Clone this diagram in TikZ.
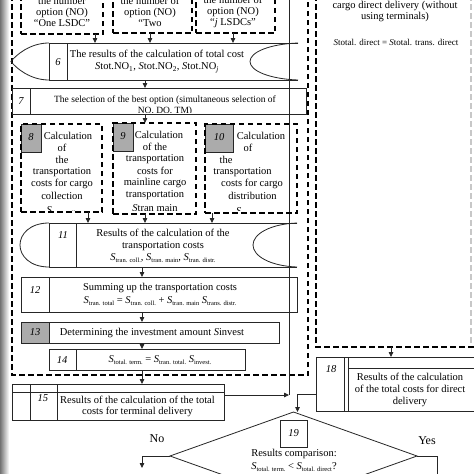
\documentclass[tikz,border=0pt]{standalone}
\usepackage{fontspec}
\setmainfont{Liberation Serif}
\usetikzlibrary{arrows.meta,shapes.geometric}
\newcommand{\Sx}[1]{\textit{S}\raisebox{-0.4ex}{\fontsize{6.5}{7}\selectfont #1}}
\begin{document}
\begin{tikzpicture}[x=1pt,y=-1pt,
  ln/.style={line width=0.8pt,draw=black!85},
  dsh/.style={line width=1.6pt,dash pattern=on 5.5pt off 3.5pt},
  gdsh/.style={line width=1.6pt,dash pattern=on 5.5pt off 3.5pt,draw=black!22},
  arr/.style={ln,-{Triangle[length=5pt,width=4.5pt]}},
  bx/.style={rectangle,inner sep=0pt,outer sep=0pt},
  sbox/.style={bx,ln,draw},
  dbox/.style={bx,dsh,draw},
  gcell/.style={bx,ln,draw,fill=black!33},
  tx/.style={font=\fontsize{10.5}{12}\selectfont,align=center,inner sep=0pt},
  txs/.style={font=\fontsize{9.5}{11}\selectfont,align=center,inner sep=0pt},
  num/.style={font=\fontsize{10.5}{12}\selectfont\itshape,inner sep=0pt},
  lbl/.style={font=\fontsize{12}{14}\selectfont,inner sep=0pt},
]
\useasboundingbox (0,0) rectangle (474,474);
\clip (0,0) rectangle (474,474);
\fill[white] (0,0) rectangle (474,474);
\shade[left color=black!55,right color=white] (0,0) rectangle (9,474);

% outer dashed frames
\draw[dsh] (12,-5) -- (12,375) -- (308,375) -- (308,-5);
\draw[dsh] (316,-5) -- (316,347) -- (480,347);
\draw[gdsh] (471,-5) -- (471,344);
\coordinate (rdb) at (391,347);
\coordinate (j1) at (289,395);
\draw[ln] (289,-5) -- (j1);

% top right texts
\node[tx,font=\fontsize{10.5}{11}\selectfont] (rt) at (395,11.5) {cargo direct delivery (without\\using terminals)};
\node[tx,font=\fontsize{9}{10}\selectfont] (rf) at (396,42) {\textit{S}total. direct = \textit{S}total. trans. direct};

% option boxes
\node[dbox,minimum width=82,minimum height=50] (o1) at (62,9) {};
\node[dbox,minimum width=79,minimum height=49] (o2) at (152.5,8.5) {};
\node[dbox,minimum width=79,minimum height=49] (o3) at (235.5,8.5) {};
\node[tx,font=\fontsize{10.5}{11}\selectfont] (o1t) at (62,11.5) {the number\\option (NO)\\“One LSDC”};
\node[tx,font=\fontsize{10.5}{11}\selectfont] (o2t) at (150,11.5) {the number of\\option (NO)\\“Two};
\node[tx,font=\fontsize{10.5}{11}\selectfont] (o3t) at (233,11.5) {the number of\\option (NO)\\“\textit{j} LSDCs”};

% box 6
\node[bx,minimum width=249,minimum height=37] (b6) at (173.5,61.5) {};
\draw[ln] (b6.north east) -- (b6.north west) -- (b6.south west) -- (b6.south east);
\draw[ln] (67,0 |- b6.north) -- (67,0 |- b6.south);
\draw[ln] (b6.north west) .. controls (30,43) and (16,55) .. (11,61.5) .. controls (16,68) and (30,80) .. (b6.south west);
\draw[ln] (b6.north east) .. controls (270,44) and (250,52) .. (250,61.5) .. controls (250,71) and (270,79) .. (b6.south east);
\node[num] (n6) at (58,62) {6};
\node[tx] (t6) at (157,61.5) {The results of the calculation of total cost\\\textit{S}tot.NO\textsubscript{1}, \textit{S}tot.NO\textsubscript{2}, \textit{S}tot.NO\textsubscript{\textit{j}}};

% box 7
\node[sbox,minimum width=294,minimum height=26] (b7) at (159,101) {};
\draw[ln] (30,0 |- b7.north) -- (30,0 |- b7.south);
\node[num] (n7) at (21,101) {7};
\begin{scope}
\clip (30,88) rectangle (306,112.5);
\node[txs] (t7) at (165,105.5) {The selection of the best option (simultaneous selection of\\NO, DO, TM)};
\end{scope}

% boxes 8, 9, 10
\node[gcell,minimum width=20,minimum height=28] (g8) at (31,138) {};
\node[num] (n8) at (31,137) {8};
\node[gcell,minimum width=20,minimum height=28] (g9) at (123,137) {};
\node[num] (n9) at (123,136) {9};
\node[gcell,minimum width=28,minimum height=28] (g10) at (219,138) {};
\node[num] (n10) at (219,137) {10};
\node[dbox,minimum width=81,minimum height=88] (b8) at (61.5,168) {};
\node[dbox,minimum width=83,minimum height=91] (b9) at (154.5,168.5) {};
\node[dbox,minimum width=92,minimum height=89] (b10) at (251,168.5) {};
\begin{scope}
\clip (21,124) rectangle (102,210);
\node[tx] (t8a) at (68,136) {Calculation};
\node[tx] (t8b) at (62,148) {of};
\node[tx] (t8c) at (62,160) {the};
\node[tx] (t8d) at (62,172) {transportation};
\node[tx] (t8e) at (62,184) {costs for cargo};
\node[tx] (t8f) at (62,196) {collection};
\node[tx] (t8g) at (62,211.5) {\Sx{tran. coll.}};
\end{scope}
\begin{scope}
\clip (113,123) rectangle (196,210);
\node[tx] (t9a) at (159,135) {Calculation};
\node[tx] (t9b) at (155,147) {of the};
\node[tx] (t9c) at (155,159) {transportation};
\node[tx] (t9d) at (155,171) {costs for};
\node[tx] (t9e) at (155,183) {mainline cargo};
\node[tx] (t9f) at (155,195) {transportation};
\node[tx] (t9g) at (155,208.5) {\textit{S}tran main};
\end{scope}
\begin{scope}
\clip (205,124) rectangle (297,210);
\node[tx] (t10a) at (261,136) {Calculation};
\node[tx] (t10b) at (248,148) {of};
\node[tx] (t10c) at (226,160) {the};
\node[tx] (t10d) at (242.5,172) {transportation};
\node[tx] (t10e) at (252,184) {costs for cargo};
\node[tx] (t10f) at (252.5,196) {distribution};
\node[tx] (t10g) at (252,212) {\Sx{tran. distr.}};
\end{scope}

% box 11
\node[bx,minimum width=248,minimum height=44] (b11) at (173,245) {};
\draw[ln] (b11.north east) -- (b11.north west) -- (b11.south west) -- (b11.south east);
\draw[ln] (76,0 |- b11.north) -- (76,0 |- b11.south);
\draw[ln] (b11.north west) .. controls (30,223) and (20,234) .. (20,245) .. controls (20,256) and (30,267) .. (b11.south west);
\draw[ln] (b11.north east) .. controls (270,224) and (253,234) .. (253,245) .. controls (253,256) and (270,266) .. (b11.south east);
\node[num] (n11) at (63,235) {11};
\node[tx] (t11) at (163,240) {Results of the calculation of the\\transportation costs};
\node[tx] (f11) at (163,258) {\Sx{tran. coll.}, \Sx{tran. main}, \Sx{tran. distr.}};

% box 12
\node[sbox,minimum width=276,minimum height=35] (b12) at (159,294.5) {};
\draw[ln] (49,0 |- b12.north) -- (49,0 |- b12.south);
\node[num] (n12) at (35,290) {12};
\node[tx] (t12) at (160,288) {Summing up the transportation costs};
\node[tx] (f12) at (160,301) {\Sx{tran. total} = \Sx{tran. coll.} + \Sx{tran. main} \Sx{trans. distr.}};

% box 13
\node[sbox,minimum width=258,minimum height=21] (b13) at (150,332.5) {};
\node[gcell,minimum width=28,minimum height=21] (g13) at (35,332.5) {};
\node[num] (n13) at (35,332.5) {13};
\node[tx] (t13) at (152,333) {Determining the investment amount \textit{S}invest};

% box 14
\node[sbox,minimum width=196,minimum height=21] (b14) at (147,359.5) {};
\draw[ln] (76,0 |- b14.north) -- (76,0 |- b14.south);
\node[num] (n14) at (62,360) {14};
\node[tx] (f14) at (160,360) {\Sx{total. term.} = \Sx{tran. total.} \Sx{invest.}};

% box 15
\node[sbox,minimum width=212,minimum height=36] (b15) at (118,402) {};
\draw[ln] (b15.west |- 0,392) -- (b15.east |- 0,392);
\draw[ln] (30,0 |- b15.north) -- (30,0 |- b15.south);
\draw[ln] (57,0 |- b15.north) -- (57,0 |- b15.south);
\node[num] (n15) at (43,398) {15};
\node[tx,font=\fontsize{10.5}{11.5}\selectfont] (t15) at (137.5,406.5) {Results of the calculation of the total\\costs for terminal delivery};

% box 18
\node[sbox,minimum width=164,minimum height=54] (b18) at (398,384) {};
\draw[ln] (344,0 |- b18.north) -- (344,0 |- b18.south);
\draw[ln] (348,0 |- b18.north) -- (348,0 |- b18.south);
\draw[ln] (348,368) -- (b18.east |- 0,368);
\node[num] (n18) at (331,369) {18};
\node[tx] (t18) at (410,390) {Results of the calculation\\of the total costs for direct\\delivery};

% decision 19
\node[ln,draw,diamond,minimum width=247,minimum height=88,inner sep=0pt,outer sep=0pt] (d19) at (293.5,456) {};
\node[sbox,minimum width=27,minimum height=27] (b19) at (293.5,433.5) {};
\node[num] (n19) at (293.5,433.5) {19};
\node[tx] (t19) at (294,453.5) {Results comparison:};
\node[tx] (f19) at (294,467.5) {\Sx{total. term.} < \Sx{total. direct}?};
\node[lbl] (no) at (157,439) {No};
\node[lbl] (yes) at (427,441) {Yes};
\coordinate (noend) at (142,468);
\coordinate (yesend) at (437,480);

% connectors
\draw[arr] (95,0 |- o1.south) -- (95,0 |- b6.north);
\draw[arr] (150,0 |- o2.south) -- (150,0 |- b6.north);
\draw[arr] (233,0 |- o3.south) -- (233,0 |- b6.north);
\draw[arr] (145,0 |- b6.south) -- (145,0 |- b7.north);
\draw[arr] (145,0 |- b7.south) -- (145,0 |- b9.north);
\draw[arr] (88,0 |- b8.south) -- (88,0 |- b11.north);
\draw[arr] (145,0 |- b9.south) -- (145,0 |- b11.north);
\draw[arr] (212,0 |- b10.south) -- (212,0 |- b11.north);
\draw[arr] (142,0 |- b11.south) -- (142,0 |- b12.north);
\draw[arr] (142,0 |- b12.south) -- (142,0 |- b13.north);
\draw[arr] (142,0 |- b13.south) -- (142,0 |- b14.north);
\draw[arr] (142,0 |- b14.south) -- (142,0 |- b15.north);
\draw[arr] (b15.east |- j1) -- (j1);
\draw[arr] (rdb) -- (rdb |- b18.north);
\draw[arr] (b18.west |- 0,394) -| ([xshift=4pt]d19.north);
\draw[arr] (d19.west) -| (noend);
\draw[ln] (d19.east) -| (yesend);
\end{tikzpicture}
\end{document}
